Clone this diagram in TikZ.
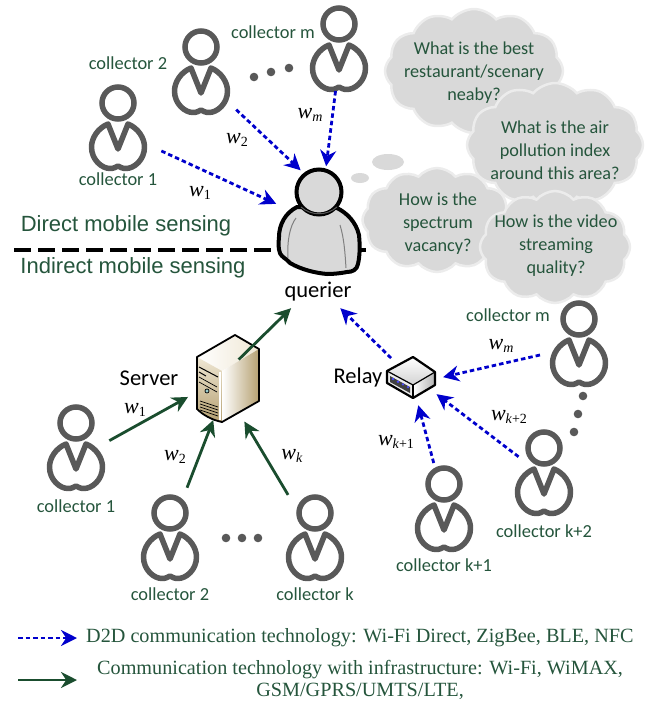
\documentclass[tikz,border=0pt]{standalone}
\usepackage{fontspec}
\setmainfont{Liberation Serif}
\newfontfamily\cali{Carlito}
\newfontfamily\arial{Liberation Sans}
\usetikzlibrary{arrows.meta,shapes.symbols}
\definecolor{txtgreen}{HTML}{25553C}
\definecolor{linkgreen}{HTML}{1A4D2E}
\definecolor{linkblue}{HTML}{0000CC}
\definecolor{iconfill}{HTML}{595959}
\definecolor{cloudfill}{HTML}{D9D9D9}
\definecolor{cloudedge}{HTML}{ECECEC}
\definecolor{boxlight}{HTML}{EFE7D4}
\definecolor{boxtan}{HTML}{B5A071}
\newcommand{\wlab}[1]{\textit{w}\raisebox{-3pt}{\fontsize{14}{14}\selectfont #1}}
\tikzset{
	>={Stealth[length=16pt,width=16pt]},
	hub/.style={circle, inner sep=0pt, minimum size=56pt},
	d2d/.style={->, linkblue, line width=2.8pt, dash pattern=on 4.5pt off 3pt},
	infra/.style={->, linkgreen, line width=2.8pt},
	collab/.style={text=txtgreen, font=\cali\fontsize{18.4}{21}\selectfont},
	wtxt/.style={font=\fontsize{22}{24}\selectfont},
	asktxt/.style={text=txtgreen, align=center, font=\cali\fontsize{18.2}{23}\selectfont},
	sidetxt/.style={text=txtgreen, font=\arial\fontsize{22}{24}\selectfont},
	legtxt/.style={text=txtgreen, align=center, font=\fontsize{20.2}{22}\selectfont},
	blacktxt/.style={font=\cali\fontsize{22.5}{24}\selectfont},
	bubble/.style={cloud, cloud puffs=12, cloud puff arc=100, aspect=1.6, inner sep=0pt, draw=cloudedge, line width=2.5pt, fill=cloudfill},
	icondot/.style={fill=iconfill, draw=none},
	person/.pic={
		\draw[iconfill, line width=5.5pt] (0,0) circle (16);
		\draw[iconfill, line width=5.5pt, line join=round] (0,46) -- (-10,21) .. controls (-20,25) and (-26.5,35) .. (-26.5,44) .. controls (-26.5,57) and (-16,65.5) .. (-8,65.5) .. controls (-4,65.5) and (-2,64) .. (0,63) .. controls (2,64) and (4,65.5) .. (8,65.5) .. controls (16,65.5) and (26.5,57) .. (26.5,44) .. controls (26.5,35) and (20,25) .. (10,21) -- cycle;
		\node[hub] (-n) at (0,23) {};
	},
}
\begin{document}
\begin{tikzpicture}[x=1pt,y=-1pt]
	\useasboundingbox (0,0) rectangle (651,702);

	\coordinate (lineL) at (14,250);
	\coordinate (lineR) at (366,250);
	\draw[black, line width=3.5pt, dash pattern=on 17pt off 7pt] (lineL) -- (lineR);
	\node[sidetxt] at (126,226) {Direct mobile sensing};
	\node[sidetxt] at (133,268) {Indirect mobile sensing};

	\node[bubble, minimum width=178pt, minimum height=124pt] at (474,71) {};
	\node[bubble, minimum width=176pt, minimum height=124pt] at (555,145) {};
	\node[bubble, minimum width=149pt, minimum height=104pt] at (437,220) {};
	\node[bubble, minimum width=150pt, minimum height=112pt] at (555,247) {};
	\fill[cloudfill] (388,162) ellipse (16 and 8);
	\fill[cloudfill] (360,178) ellipse (9 and 5);
	\node[asktxt] at (474,73) {What is the best\\restaurant/scenary\\neaby?};
	\node[asktxt] at (555,150) {What is the air\\pollution index\\around this area?};
	\node[asktxt] at (438,224) {How is the\\spectrum\\vacancy?};
	\node[asktxt] at (556,246) {How is the video\\streaming\\quality?};

	\draw[black, line width=4pt, fill=cloudfill, line join=round] (297,207) .. controls (285,213) and (279,225) .. (279,237) .. controls (278,247) and (279,254) .. (282,256) .. controls (285,259) and (288,260) .. (290,263) .. controls (302,270) and (316,273) .. (327,274) .. controls (335,274) and (342,273) .. (347,272) .. controls (352,272) and (357,270) .. (358,264) .. controls (360,255) and (360,245) .. (359,235) .. controls (356,222) and (347,213) .. (337,208) -- cycle;
	\draw[gray, line width=1pt] (296,218) .. controls (290,226) and (287,240) .. (288,258);
	\draw[gray, line width=1pt] (340,225) .. controls (344,238) and (345,252) .. (346,268);
	\draw[black, line width=4pt, fill=cloudfill] (319,192) circle (22.5);
	\draw[gray!70!black, line width=1pt] (301,207) .. controls (311,216) and (327,216) .. (337,207);
	\node[hub, minimum size=88pt] (qr) at (320,210) {};
	\node[blacktxt, minimum height=32pt, minimum width=74pt] (quer) at (318,292) {querier};

	\shade[left color=white, right color=boxlight] (197,357) -- (235,335) -- (259,349) -- (222,371) -- cycle;
	\shade[top color=boxlight, bottom color=boxtan] (197,357) -- (222,371) -- (222,422) .. controls (212,420) and (203,415) .. (197,409) -- cycle;
	\shade[left color=white, right color=boxtan] (222,371) -- (259,349) -- (259,401) -- (222,422) -- cycle;
	\draw[black, line width=1.8pt, line join=round] (197,357) -- (235,335) -- (259,349) -- (259,401) -- (222,422) .. controls (212,420) and (203,415) .. (197,409) -- cycle;
	\draw[white, line width=1.5pt] (220,372) -- (220,420);
	\draw[black, line width=1pt] (199,367) -- (218,377);
	\draw[black, line width=1pt] (199,372) -- (206,376);
	\draw[black, line width=.7pt] (199,377) -- (217,387);
	\draw[black, line width=.7pt] (199,382) -- (217,392);
	\draw[black, line width=.7pt, fill=teal!40] (207,391) circle (2);
	\foreach \yy in {401,404,407,410}
		\draw[black, line width=.7pt] (200,\yy) -- (218,\yy+6);
	\node[hub, minimum size=96pt] (sv) at (228,370) {};
	\node[blacktxt] at (149,378) {Server};

	\shade[top color=white, bottom color=gray!35] (413,357) -- (435,372) -- (413,385) -- (387,371) -- cycle;
	\shade[left color=white, right color=gray!60] (413,385) -- (435,372) -- (435,385) -- (413,398) -- cycle;
	\fill[white!85!gray] (387,371) -- (413,385) -- (413,398) -- (387,383) -- cycle;
	\fill[black!75] (390,376) -- (410,387) -- (410,393) -- (390,382) -- cycle;
	\foreach \dd in {0,1,2,3}
		\fill[blue!70] (393+5*\dd,379+2.7*\dd) circle (1.3);
	\draw[black, line width=2.2pt, line join=round] (413,357) -- (435,372) -- (435,385) -- (413,398) -- (387,383) -- (387,371) -- cycle;
	\draw[black, line width=1.2pt] (387,371) -- (413,385) -- (435,372);
	\draw[black, line width=1.2pt] (413,385) -- (413,398);
	\node[hub] (rl) at (411,378) {};
	\node[blacktxt] at (358,377) {Relay};

	\pic (tc1) at (118,103) {person};
	\pic (tc2) at (201,47) {person};
	\pic (tcm) at (339,24) {person};
	\pic (lc1) at (76,423) {person};
	\pic (lc2) at (170,513) {person};
	\pic (lck) at (315,513) {person};
	\pic (rcm) at (579,319) {person};
	\pic (rck2) at (544,448) {person};
	\pic (rck1) at (444,484) {person};

	\node[collab] at (118,179) {collector 1};
	\node[collab] at (128,63) {collector 2};
	\node[collab] at (273,32) {collector m};
	\node[collab] at (76,506) {collector 1};
	\node[collab] at (170,594) {collector 2};
	\node[collab] at (315,594) {collector k};
	\node[collab] at (508,315) {collector m};
	\node[collab] at (544,531) {collector k+2};
	\node[collab] at (444,565) {collector k+1};

	\foreach \xx/\yy in {254/77,271/72,289/68,226/538,242/538,258/538,574/432,578/414,583/396}
		\fill[icondot] (\xx,\yy) circle (4.3);

	\draw[d2d, shorten <=22pt] (tc1-n.-34) -- (qr.172);
	\draw[d2d, shorten <=25pt] (tc2-n.-53) -- (qr.116);
	\draw[d2d, shorten <=16pt] (tcm-n.-93) -- (qr.82);
	\draw[d2d] (rl.135) -- (quer.-36);
	\draw[d2d, shorten <=13pt, shorten >=4pt] (rcm-n.201) -- (rl.0);
	\draw[d2d, shorten <=1pt, shorten >=2pt] (rck2-n.151) -- (rl.-32);
	\draw[d2d, shorten <=17pt] (rck1-n.102) -- (rl.-75);

	\draw[infra, shorten <=15pt] (sv.center) -- (quer.211);
	\draw[infra, shorten <=6pt] (lc1-n.5) -- (sv.214);
	\draw[infra, shorten <=23pt, shorten >=4pt] (lc2-n.72) -- (sv.254);
	\draw[infra, shorten <=21pt, shorten >=6pt] (lck-n.125) -- (sv.-74);

	\node[wtxt] at (200,193) {\wlab{1}};
	\node[wtxt] at (237,140) {\wlab{2}};
	\node[wtxt] at (310,115) {\wlab{\textit{m}}};
	\node[wtxt] at (135,410) {\wlab{1}};
	\node[wtxt] at (175,457) {\wlab{2}};
	\node[wtxt] at (292,456) {\wlab{\textit{k}}};
	\node[wtxt] at (501,346) {\wlab{\textit{m}}};
	\node[wtxt] at (509,417) {\wlab{\textit{k}+2}};
	\node[wtxt] at (396,442) {\wlab{\textit{k}+1}};

	\coordinate (legA) at (18,638);
	\node[legtxt, anchor=west, inner sep=0pt] (legB) at (86,638) {D2D communication technology: Wi-Fi Direct, ZigBee, BLE, NFC};
	\draw[d2d, shorten >=9pt] (legA) -- (legB.west);
	\coordinate (legC) at (18,680);
	\node[legtxt, anchor=west, inner sep=0pt] (legD) at (97,680) {Communication technology with infrastructure: Wi-Fi, WiMAX,\\GSM/GPRS/UMTS/LTE,};
	\draw[infra, shorten >=20pt] (legC) -- (legD.west);
\end{tikzpicture}
\end{document}
